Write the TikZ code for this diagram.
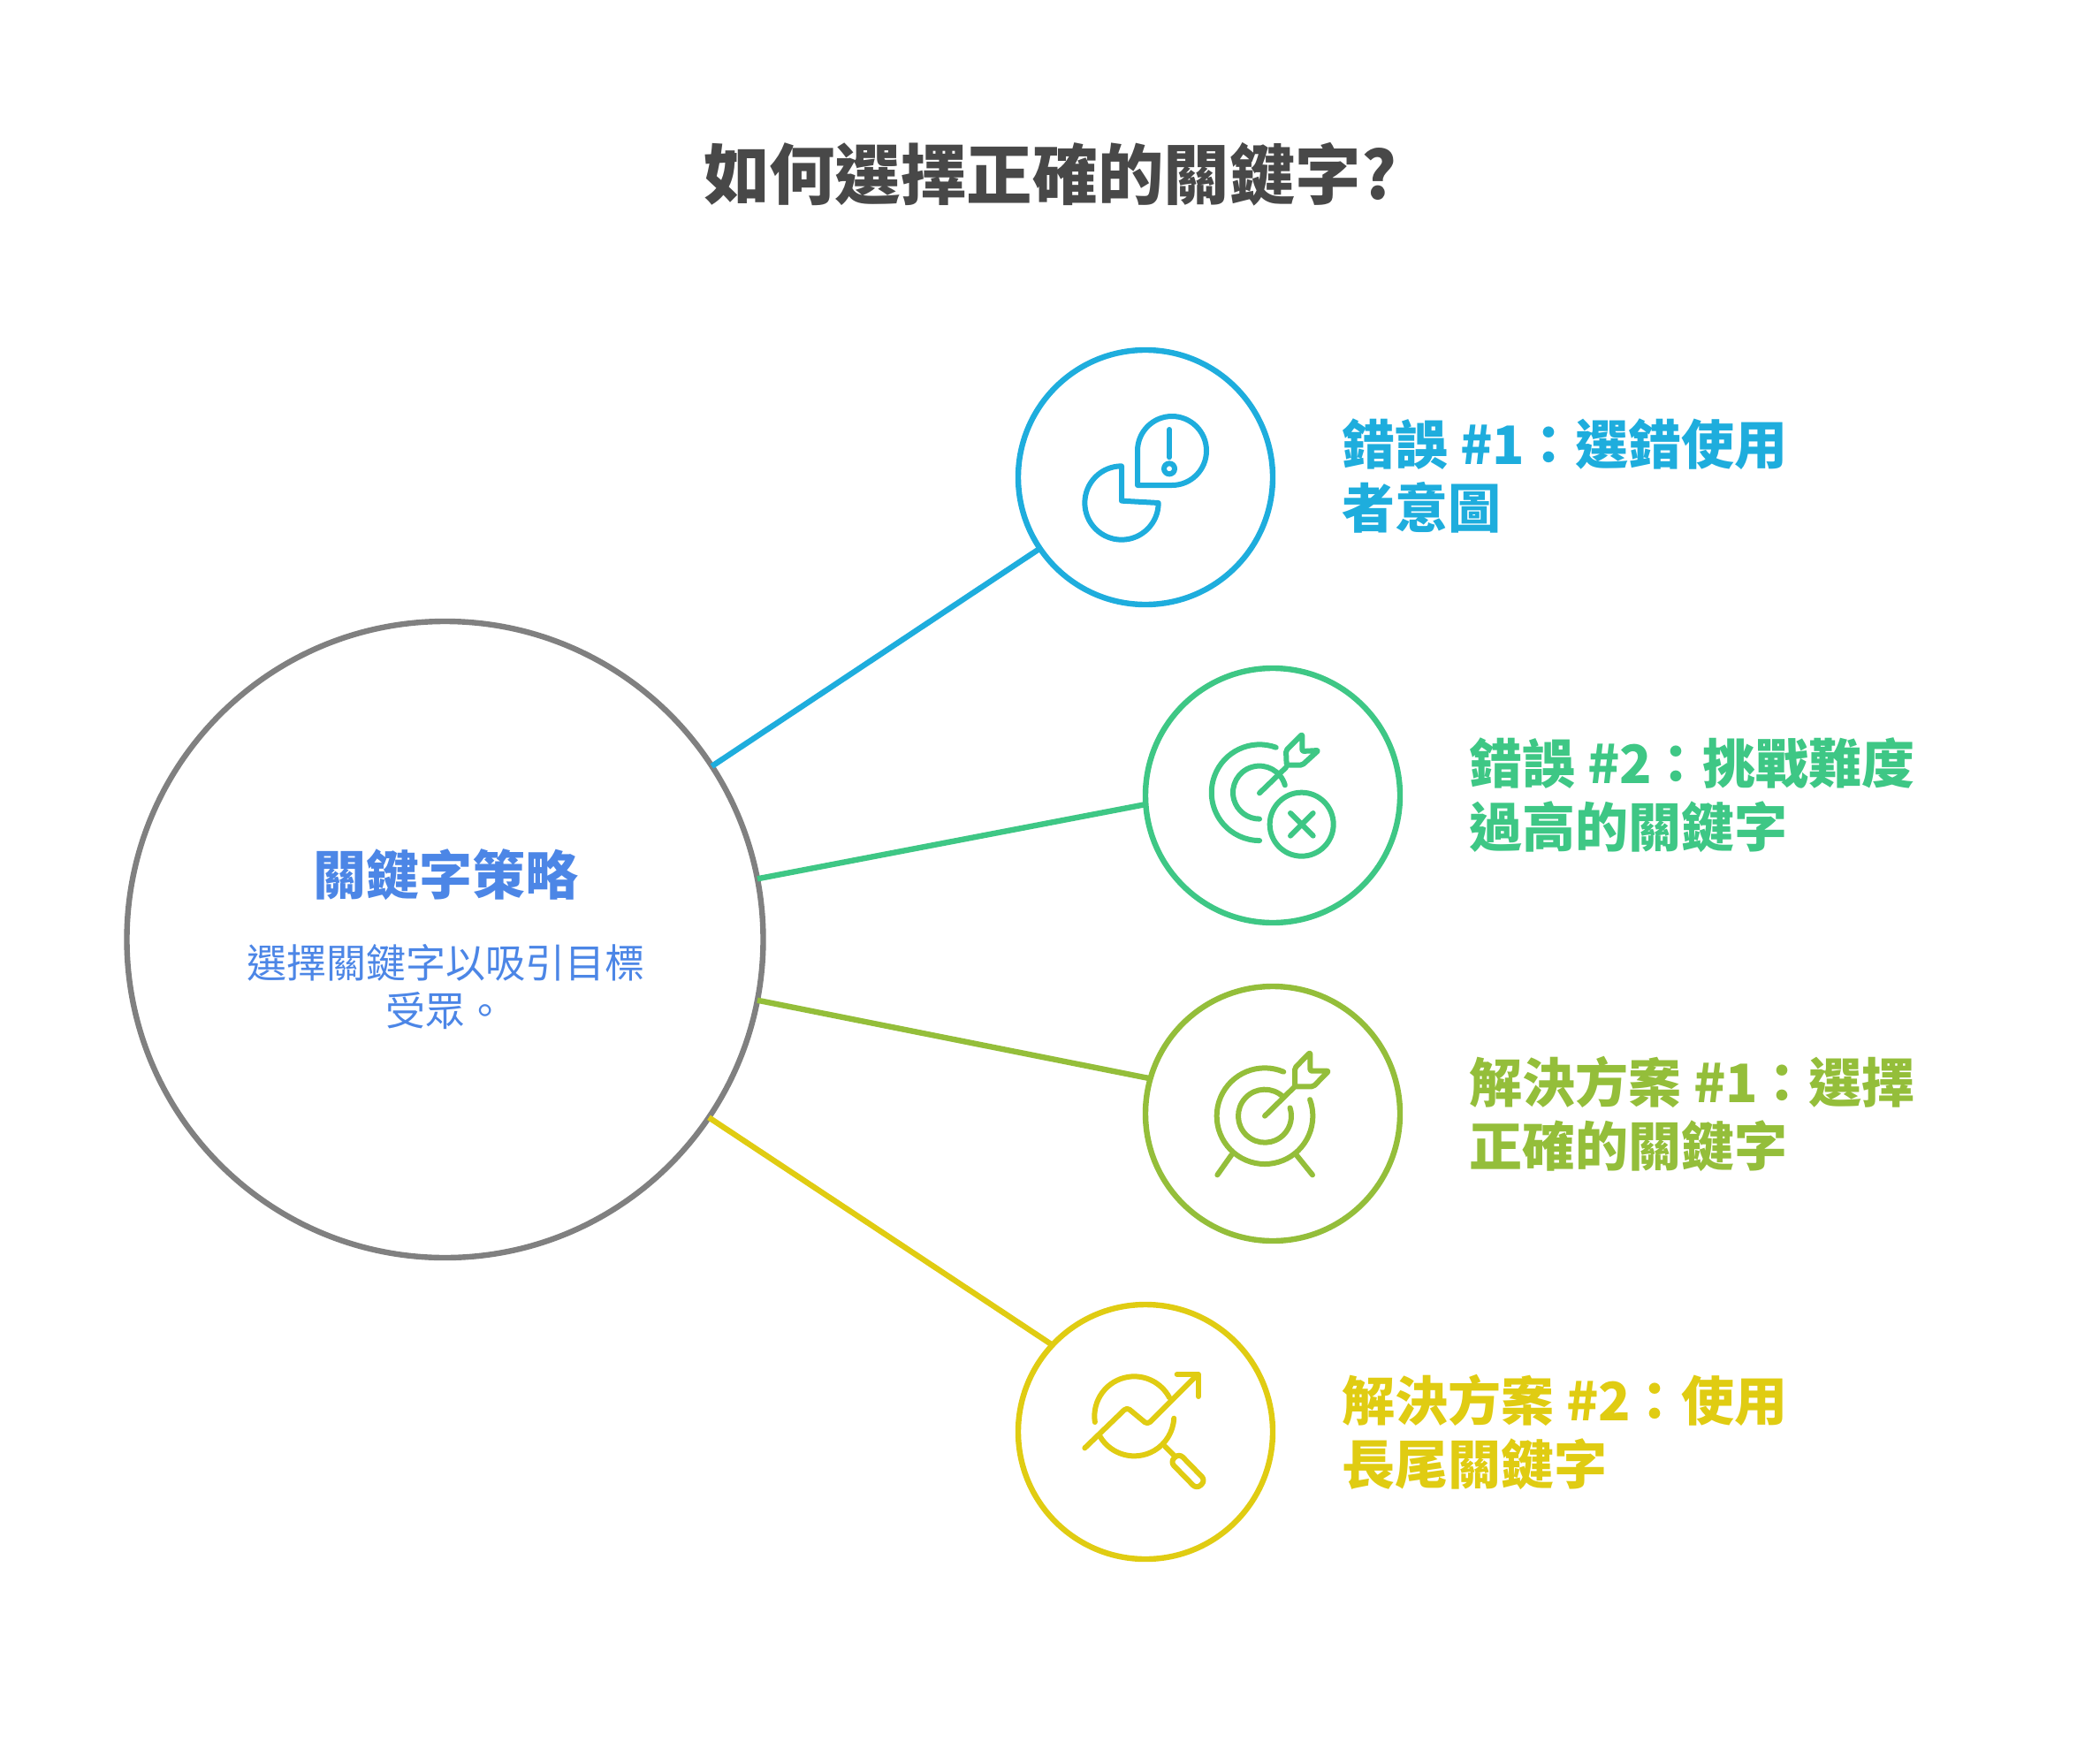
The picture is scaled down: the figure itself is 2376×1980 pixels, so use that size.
\documentclass[tikz,border=0pt]{standalone}
\usepackage{fontspec}
\setmainfont{Noto Sans CJK TC}
\definecolor{cone}{HTML}{1EADDD}
\definecolor{ctwo}{HTML}{3EC785}
\definecolor{cthree}{HTML}{94BE3A}
\definecolor{cfour}{HTML}{E0CC12}
\definecolor{cmain}{HTML}{4C86E6}
\definecolor{cgrey}{HTML}{808080}
\definecolor{ctitle}{HTML}{484848}
\newcommand{\numtag}[1]{\#{}#1\kern-1.5pt}
\tikzset{
  ring/.style={circle,draw,line width=3.2pt,inner sep=0pt,outer sep=0pt,minimum size=144pt},
  label/.style={anchor=west,align=left,inner sep=0pt,font=\fontsize{30}{36}\selectfont\bfseries},
  icon/.style={line width=3pt,line cap=round,line join=round}
}
\begin{document}
\begin{tikzpicture}[x=0.5pt,y=-0.5pt]
  \useasboundingbox (0,0) rectangle (2376,1980);
  \node[font=\fontsize{37.2}{45}\selectfont\bfseries,text=ctitle,inner sep=0pt] (title) at (1188,197) {如何選擇正確的關鍵字?};
  \node[ring,cgrey,minimum size=360pt] (main) at (503.5,1063) {};
  \node[ring,cone] (a) at (1296,540) {};
  \node[ring,ctwo] (b) at (1440,900) {};
  \node[ring,cthree] (c) at (1440,1260) {};
  \node[ring,cfour] (d) at (1296,1620) {};
  \foreach \from/\to/\col in {main.33/a.214/cone, main.11/b.184/ctwo, main.-11/c.164/cthree, main.-34/d.137/cfour}
    \draw[line width=3.2pt,\col] (\from) -- (\to);
  \node[font=\fontsize{30}{36}\selectfont\bfseries,text=cmain,inner sep=0pt] (mainhead) at (504,990) {關鍵字策略};
  \node[font=\fontsize{22.5}{27}\selectfont,text=cmain,align=center,inner sep=0pt] (maintext) at (504,1117) {選擇關鍵字以吸引目標\\受眾。};
  \node[label,text=cone] (la) at (1518,539) {錯誤 \numtag{1}：選錯使用\\者意圖};
  \node[label,text=ctwo] (lb) at (1662,900) {錯誤 \numtag{2}：挑戰難度\\過高的關鍵字};
  \node[label,text=cthree] (lc) at (1662,1260) {解決方案 \numtag{1}：選擇\\正確的關鍵字};
  \node[label,text=cfour] (ld) at (1518,1620) {解決方案 \numtag{2}：使用\\長尾關鍵字};
  % pie and warning drop
  \begin{scope}[shift={(1190,440)},scale=1/3,icon,cone]
    \draw (237,262) arc[start angle=-90,end angle=-360,radius=125] -- (237,380) -- cycle;
    \draw (291,327) -- (291,210) arc[start angle=180,end angle=450,radius=117] -- cycle;
    \draw (399,138) -- (399,232);
    \draw (399,271) circle[radius=18];
  \end{scope}
  % target with cross
  \begin{scope}[shift={(1340,800)},scale=1/3,icon,ctwo]
    \draw (311,137) arc[start angle=-70,end angle=-270,radius=163];
    \draw (341.5,265) arc[start angle=-16,end angle=-270,radius=90];
    \draw (255,292) -- (345,205);
    \draw[rounded corners=1pt] (345,147) -- (400,92) -- (400,150) -- (455,147) -- (400,197) -- (347,197) -- cycle;
    \draw (398,398) circle[radius=108];
    \draw (360,360) -- (437,437);
    \draw (437,360) -- (360,437);
  \end{scope}
  % target on stand
  \begin{scope}[shift={(1350,1170)},scale=1/3,icon,cthree]
    \draw (306.7,128) arc[start angle=-67,end angle=-380,radius=163];
    \draw (304.4,212.2) arc[start angle=-47,end angle=-378,radius=90];
    \draw (243,278) -- (345,178);
    \draw[rounded corners=1pt] (345,115) -- (397,62) -- (397,125) -- (460,125) -- (408,178) -- (345,178) -- cycle;
    \draw (130,410) -- (82,478);
    \draw (350,410) -- (405,478);
  \end{scope}
  % magnifier and trend
  \begin{scope}[shift={(1200,1530)},scale=1/3,icon,cfour]
    \draw (116.5,237) arc[start angle=171.5,end angle=332,radius=135];
    \draw (133,284.5) arc[start angle=150,end angle=3,radius=135];
    \draw[rounded corners=2pt] (82,325) -- (225,187) -- (295,245) -- (465,75);
    \draw (395,75) -- (468,75) -- (468,150);
    \draw (355,320) -- (385,350);
    \draw[rounded corners=3pt] (402,343) -- (372,372) -- (462,464) -- (492,435) -- cycle;
  \end{scope}
\end{tikzpicture}
\end{document}
